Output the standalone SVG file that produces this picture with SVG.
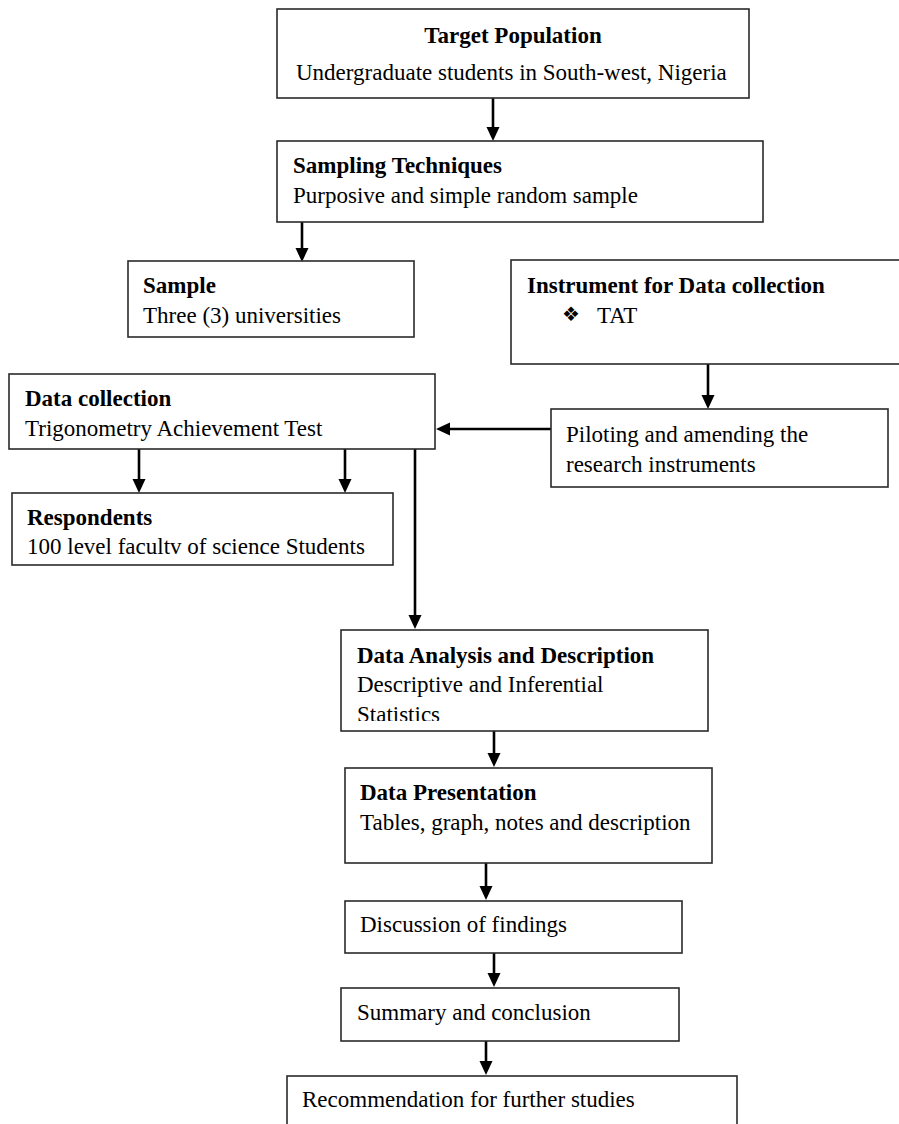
<svg xmlns="http://www.w3.org/2000/svg" width="899" height="1124" viewBox="0 0 899 1124">
<style>
.box{fill:#fff;stroke:#2a2a2a;stroke-width:1.6}
text{font-family:"Liberation Serif","Times New Roman",serif;font-size:23px;fill:#000}
.b{font-weight:bold}
.con{stroke:#000;stroke-width:2.6;fill:none}
.sym{font-family:"DejaVu Sans",sans-serif;font-size:20px}
</style>
<defs>
<marker id="ah" markerUnits="userSpaceOnUse" markerWidth="16" markerHeight="14" refX="4" refY="6.5" orient="auto">
<path d="M0,0 L14,6.5 L0,13 Z" fill="#000"/>
</marker>
<clipPath id="clipStat"><rect x="341" y="690" width="367" height="31"/></clipPath>
</defs>
<rect width="899" height="1124" fill="#fff"/>

<g id="connectors">
<line class="con" x1="493" y1="98" x2="493" y2="131" marker-end="url(#ah)"/>
<line class="con" x1="302" y1="222" x2="302" y2="252" marker-end="url(#ah)"/>
<line class="con" x1="708" y1="364" x2="708" y2="399" marker-end="url(#ah)"/>
<line class="con" x1="551" y1="429" x2="446" y2="429" marker-end="url(#ah)"/>
<line class="con" x1="139" y1="449" x2="139" y2="483" marker-end="url(#ah)"/>
<line class="con" x1="345" y1="449" x2="345" y2="483" marker-end="url(#ah)"/>
<line class="con" x1="415" y1="449" x2="415" y2="619" marker-end="url(#ah)"/>
<line class="con" x1="494" y1="731" x2="494" y2="757" marker-end="url(#ah)"/>
<line class="con" x1="486" y1="863" x2="486" y2="890" marker-end="url(#ah)"/>
<line class="con" x1="494" y1="953" x2="494" y2="977" marker-end="url(#ah)"/>
<line class="con" x1="486" y1="1041" x2="486" y2="1065" marker-end="url(#ah)"/>
</g>

<g id="target">
<rect class="box" x="277" y="9" width="472" height="89"/>
<text class="b" x="513" y="43" text-anchor="middle">Target Population</text>
<text x="296" y="80">Undergraduate students in South-west, Nigeria</text>
</g>

<g id="sampling">
<rect class="box" x="277" y="141" width="486" height="81"/>
<text class="b" x="293" y="173">Sampling Techniques</text>
<text x="293" y="203">Purposive and simple random sample</text>
</g>

<g id="sample">
<rect class="box" x="128" y="261" width="286" height="76"/>
<text class="b" x="143" y="293">Sample</text>
<text x="143" y="323">Three (3) universities</text>
</g>

<g id="instrument">
<rect class="box" x="511" y="260" width="392" height="104"/>
<text class="b" x="527" y="293">Instrument for Data collection</text>
<text class="sym" x="562" y="321">❖</text>
<text x="597" y="323">TAT</text>
</g>

<g id="data-collection">
<rect class="box" x="9" y="374" width="426" height="75"/>
<text class="b" x="25" y="406">Data collection</text>
<text x="25" y="436">Trigonometry Achievement Test</text>
</g>

<g id="piloting">
<rect class="box" x="551" y="409" width="337" height="78"/>
<text x="566" y="442">Piloting and amending the</text>
<text x="566" y="472">research instruments</text>
</g>

<g id="respondents">
<rect class="box" x="12" y="493" width="381" height="72"/>
<text class="b" x="27" y="525">Respondents</text>
<text x="27" y="554">100 level facultv of science Students</text>
</g>

<g id="data-analysis">
<rect class="box" x="341" y="630" width="367" height="101"/>
<text class="b" x="357" y="663">Data Analysis and Description</text>
<text x="357" y="692">Descriptive and Inferential</text>
<text x="357" y="722" clip-path="url(#clipStat)">Statistics</text>
</g>

<g id="data-presentation">
<rect class="box" x="345" y="768" width="367" height="95"/>
<text class="b" x="360" y="800">Data Presentation</text>
<text x="360" y="830">Tables, graph, notes and description</text>
</g>

<g id="discussion">
<rect class="box" x="345" y="901" width="337" height="52"/>
<text x="360" y="932">Discussion of findings</text>
</g>

<g id="summary">
<rect class="box" x="341" y="988" width="338" height="53"/>
<text x="357" y="1020">Summary and conclusion</text>
</g>

<g id="recommendation">
<rect class="box" x="287" y="1076" width="450" height="60"/>
<text x="302" y="1107">Recommendation for further studies</text>
</g>
</svg>
